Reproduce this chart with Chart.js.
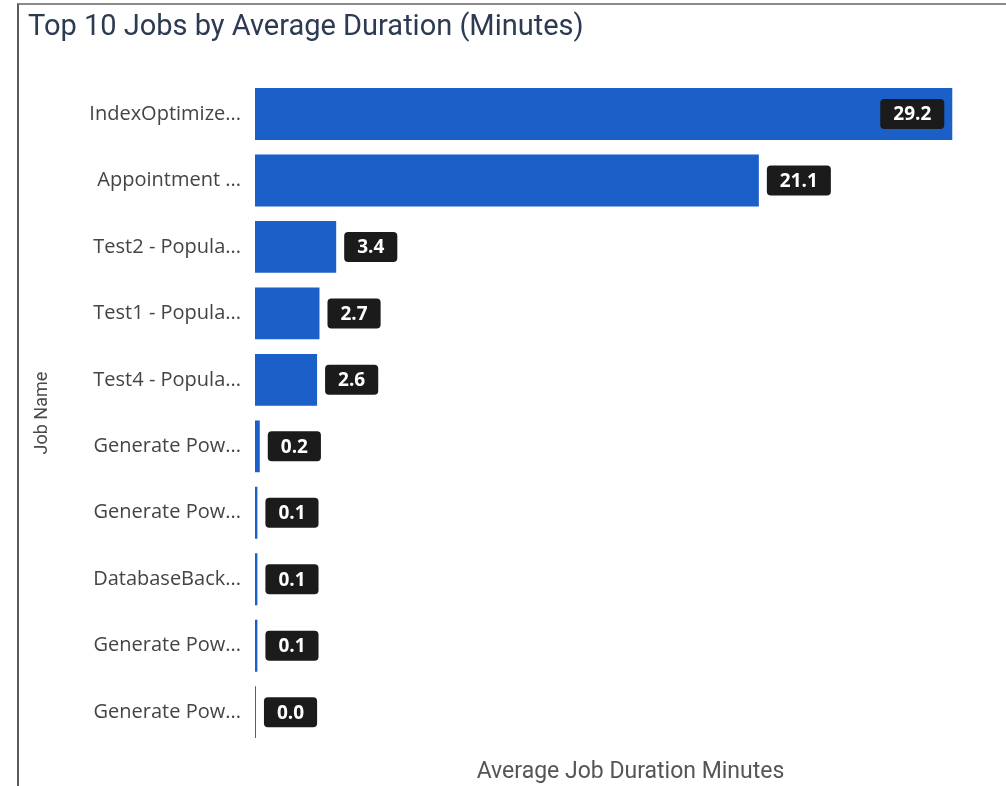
<!DOCTYPE html>
<html>
<head>
<meta charset="utf-8">
<script src="https://cdn.jsdelivr.net/npm/chart.js@4.4.1/dist/chart.umd.min.js"></script>
<style>
  html, body { margin: 0; padding: 0; background: #fff; }
  #wrap { position: relative; width: 1006px; height: 786px; overflow: hidden; }
  #frame { position: absolute; left: 17px; top: 3px; right: -5px; bottom: -5px;
           border-left: 2px solid #5a5a5a; border-top: 2px solid #8a8a8a; pointer-events: none; }
  canvas { position: absolute; left: 0; top: 0; }
</style>
</head>
<body>
<div id="wrap">
  <canvas id="c" width="1006" height="786"></canvas>
  <div id="frame"></div>
</div>
<script>
const chartTitle = 'Top 10 Jobs by Average Duration (Minutes)';
const xAxisTitle = 'Average Job Duration Minutes';
const yAxisTitle = 'Job Name';
const jobNames = [
  'IndexOptimize...',
  'Appointment ...',
  'Test2 - Popula...',
  'Test1 - Popula...',
  'Test4 - Popula...',
  'Generate Pow...',
  'Generate Pow...',
  'DatabaseBack...',
  'Generate Pow...',
  'Generate Pow...'
];
const avgMinutes = [29.2, 21.1, 3.4, 2.7, 2.6, 0.2, 0.1, 0.1, 0.1, 0.04];

const BAR_COLOR = '#1b5fc9';

const labelPlugin = {
  id: 'valueLabels',
  afterDatasetsDraw(chart) {
    const ctx = chart.ctx;
    const meta = chart.getDatasetMeta(0);
    const area = chart.chartArea;
    ctx.save();
    ctx.font = 'bold 19px "Open Sans", sans-serif';
    ctx.textBaseline = 'middle';
    ctx.textAlign = 'center';
    meta.data.forEach((bar, i) => {
      const txt = avgMinutes[i].toFixed(1);
      const tw = ctx.measureText(txt).width;
      const bw = tw + 26, bh = 30, gap = 8;
      let bx = bar.x + gap;
      if (bx + bw > area.right - 4) bx = bar.x - gap - bw;
      const by = bar.y - bh / 2;
      ctx.fillStyle = '#1b1b1b';
      ctx.beginPath();
      ctx.roundRect(bx, by, bw, bh, 4);
      ctx.fill();
      ctx.fillStyle = '#ffffff';
      ctx.fillText(txt, bx + bw / 2, bar.y + 1);
    });
    ctx.restore();
  }
};

new Chart(document.getElementById('c'), {
  type: 'bar',
  data: {
    labels: jobNames,
    datasets: [{
      data: avgMinutes,
      backgroundColor: BAR_COLOR,
      barPercentage: 0.78,
      categoryPercentage: 1.0
    }]
  },
  options: {
    indexAxis: 'y',
    responsive: false,
    animation: false,
    layout: { padding: { left: 28, right: 0, top: 0, bottom: 0 } },
    plugins: {
      legend: { display: false },
      tooltip: { enabled: false },
      title: {
        display: true,
        text: chartTitle,
        align: 'start',
        color: '#2c3a52',
        font: { family: 'Roboto', size: 29, weight: 'normal' },
        padding: { top: 10, bottom: 36 }
      }
    },
    scales: {
      x: {
        min: 0,
        max: 31.45,
        grid: { display: false, drawTicks: false },
        border: { display: false },
        ticks: { display: false },
        title: {
          display: true,
          text: xAxisTitle,
          color: '#555555',
          font: { family: 'Roboto', size: 23 },
          padding: { top: 13, bottom: 0 }
        }
      },
      y: {
        grid: { display: false, drawTicks: false },
        border: { display: false },
        ticks: {
          color: '#444444',
          font: { family: '"Open Sans", sans-serif', size: 20 },
          padding: 14
        },
        title: {
          display: true,
          text: yAxisTitle,
          color: '#4a4a4a',
          font: { family: 'Roboto', size: 18 },
          padding: { top: 4, bottom: 0 }
        },
        afterFit(scale) { scale.width = 255 - 28; }
      }
    }
  },
  plugins: [labelPlugin]
});
</script>
</body>
</html>
